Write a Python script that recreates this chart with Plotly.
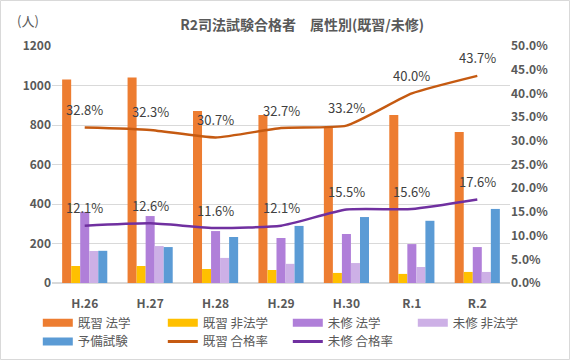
import plotly.graph_objects as go

categories = ["H.26", "H.27", "H.28", "H.29", "H.30", "R.1", "R.2"]
kishu_hogaku = [1030, 1040, 871, 851, 785, 851, 765]
kishu_hihogaku = [86, 86, 71, 66, 51, 46, 56]
mishu_hogaku = [360, 339, 263, 228, 248, 197, 182]
mishu_hihogaku = [162, 187, 127, 97, 101, 81, 56]
yobi = [163, 182, 233, 289, 334, 315, 375]
kishu_rate = [0.328, 0.323, 0.307, 0.327, 0.332, 0.400, 0.437]
mishu_rate = [0.121, 0.126, 0.116, 0.121, 0.155, 0.156, 0.176]

FONT = "Noto Sans CJK JP"
TXT = "#595959"

fig = go.Figure()
bars = [
    ("既習 法学", kishu_hogaku, "#ED7D31", "legend"),
    ("既習 非法学", kishu_hihogaku, "#FFC000", "legend"),
    ("未修 法学", mishu_hogaku, "#B07FD9", "legend"),
    ("未修 非法学", mishu_hihogaku, "#CDB0E6", "legend"),
    ("予備試験", yobi, "#5B9BD5", "legend2"),
]
for name, vals, col, lg in bars:
    fig.add_trace(go.Bar(x=categories, y=vals, name=name, marker_color=col,
                         marker_line_width=0, showlegend=False, legendgroup=name))

lines = [
    ("既習 合格率", kishu_rate, "#C55A11"),
    ("未修 合格率", mishu_rate, "#7030A0"),
]
annotations = []
for name, vals, col in lines:
    fig.add_trace(go.Scatter(x=categories, y=vals, name=name, yaxis="y2",
                             mode="lines", showlegend=False, legendgroup=name,
                             line=dict(color=col, width=2.5, shape="spline", smoothing=0.5)))
    for c, v in zip(categories, vals):
        annotations.append(dict(x=c, y=v, xref="x", yref="y2", text=f"{v*100:.1f}%",
                                showarrow=False, yshift=18,
                                font=dict(family=FONT, size=13, color="#404040")))

# legend entries (wide rectangles like the original legend keys)
for name, vals, col, lg in bars:
    fig.add_trace(go.Scatter(x=[None], y=[None], name=name, mode="lines", legend=lg,
                             legendgroup=name, line=dict(color=col, width=8)))
for name, vals, col in lines:
    fig.add_trace(go.Scatter(x=[None], y=[None], name=name, mode="lines", legend="legend2",
                             legendgroup=name, yaxis="y2", line=dict(color=col, width=3)))

annotations.append(dict(x=0.0, y=1.0, xref="paper", yref="paper", xanchor="center",
                        yanchor="middle", xshift=-24, yshift=26, text="(人)",
                        showarrow=False, font=dict(size=13, color=TXT)))

legend_common = dict(orientation="h", x=-0.031, xanchor="left", yanchor="top",
                     entrywidth=80, entrywidthmode="pixels", traceorder="normal",
                     font=dict(size=12.5, color=TXT), itemwidth=30, tracegroupgap=0,
                     bgcolor="rgba(0,0,0,0)")

fig.update_layout(
    width=570, height=360,
    margin=dict(l=52, r=60, t=46, b=77, autoexpand=False),
    paper_bgcolor="white", plot_bgcolor="white",
    font=dict(family=FONT, size=12, color=TXT),
    title=dict(text="<b>R2司法試験合格者　属性別(既習/未修)</b>", x=0.53, xanchor="center",
               y=0.93, yanchor="middle", font=dict(size=14, color=TXT)),
    barmode="group", bargap=0.31, bargroupgap=0,
    showlegend=True,
    legend=dict(legend_common, y=-0.106),
    legend2=dict(legend_common, y=-0.185),
    xaxis=dict(showgrid=False, showline=False, ticks="", ticklabelstandoff=12,
               tickfont=dict(size=12, color=TXT, weight="bold")),
    yaxis=dict(range=[0, 1200], dtick=200, showgrid=True, gridcolor="#D9D9D9",
               gridwidth=1, zeroline=True, zerolinecolor="#D9D9D9",
               tickfont=dict(size=12, color=TXT, weight="bold")),
    yaxis2=dict(range=[0, 0.5], dtick=0.05, tickformat=".1%", overlaying="y",
                side="right", showgrid=False, zeroline=False,
                tickfont=dict(size=12, color=TXT, weight="bold")),
    annotations=annotations,
    shapes=[dict(type="rect", xref="paper", yref="paper",
                 x0=-51.5/458, y0=-76.5/237, x1=1+59.5/458, y1=1+45.5/237,
                 line=dict(color="#D9D9D9", width=1))],
)

fig.write_html("out.html", config={"displayModeBar": False},
               post_script="document.body.style.margin='0';")
